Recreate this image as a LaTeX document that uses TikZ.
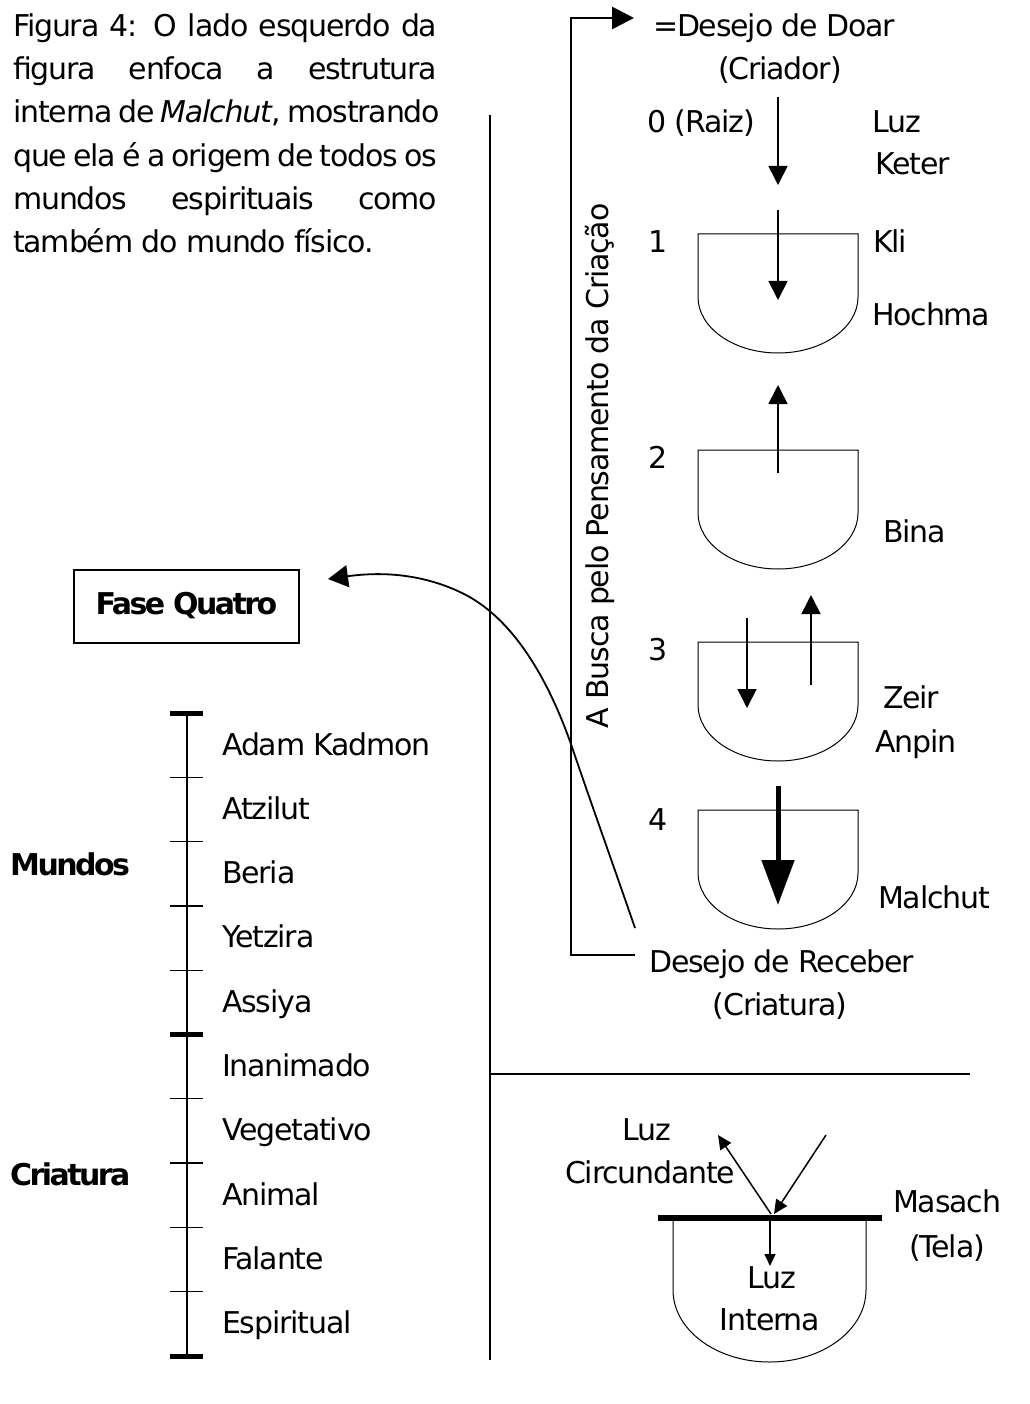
\documentclass[tikz,border=0pt]{standalone}
\usepackage{fontspec}
\setmainfont{DejaVu Sans}[LetterSpace=-4, BoldFeatures={LetterSpace=-8.5}]
\usetikzlibrary{arrows.meta}
\begin{document}
\begin{tikzpicture}[x=1pt,y=-1pt,
  lab/.style={inner sep=0pt, font=\fontsize{30}{36}\selectfont},
  blab/.style={inner sep=0pt, font=\fontsize{30}{36}\selectfont\bfseries},
  arr/.style={line width=1.6pt, -{Triangle[length=19pt,width=19pt]}},
  smallarr/.style={line width=1.5pt, -{Triangle[length=14pt,width=13pt]}},
  tinyarr/.style={line width=1.5pt, -{Triangle[length=12pt,width=11pt]}},
  bowlln/.style={line width=1pt},
  bowl/.pic={\draw[bowlln] (-80,0) -- (-80,63) arc[start angle=180,end angle=0,x radius=80,y radius=56] -- (80,0) -- cycle;},
]
\useasboundingbox (0,0) rectangle (1029,1404);

% ---------- caption paragraph ----------
\node[lab, anchor=base west] (p1) at (13,37)  {\makebox[424pt][s]{Figura 4: O lado esquerdo da}};
\node[lab, anchor=base west] (p2) at (13,80)  {\makebox[424pt][s]{figura enfoca a estrutura}};
\node[lab, anchor=base west] (p3) at (13,123) {\makebox[424pt][s]{interna de \textit{Malchut}, mostrando}};
\node[lab, anchor=base west] (p4) at (13,167) {\makebox[424pt][s]{que ela é a origem de todos os}};
\node[lab, anchor=base west] (p5) at (13,210) {\makebox[424pt][s]{mundos espirituais como}};
\node[lab, anchor=base west] (p6) at (13,253) {também do mundo físico.};

% ---------- dividing lines ----------
\coordinate (vtop) at (490,115);
\coordinate (vbot) at (490,1360);
\coordinate (hl) at (490,1074);
\coordinate (hr) at (970,1074);
\draw[line width=1.5pt] (vtop) -- (vbot);
\draw[line width=1.5pt] (hl) -- (hr);

% ---------- bracket ----------
\coordinate (bk1) at (635,955);
\coordinate (bk2) at (571,955);
\coordinate (bk3) at (571,18);
\coordinate (bk4) at (634,18);
\draw[line width=2.8pt, -{Triangle[length=22pt,width=22pt]}] (bk1) -- (bk2) -- (bk3) -- (bk4);
\node[lab, rotate=90, anchor=base] (busca) at (608,466) {A Busca pelo Pensamento da Criação};

% ---------- labels right ----------
\node[lab, anchor=base] (doar1) at (774,37) {=Desejo de Doar};
\node[lab, anchor=base] (doar2) at (780,80) {(Criador)};
\node[lab, anchor=base west] (raiz) at (647,133) {0 (Raiz)};
\node[lab, anchor=base west] (luz1) at (872,133) {Luz};
\node[lab, anchor=base west] (keter) at (875,175) {Keter};
\node[lab, anchor=base west] (n1) at (648,253) {1};
\node[lab, anchor=base west] (kli) at (873,253) {Kli};
\node[lab, anchor=base west] (hochma) at (872,325) {Hochma};
\node[lab, anchor=base west] (n2) at (648,468) {2};
\node[lab, anchor=base west] (bina) at (883,542) {Bina};
\node[lab, anchor=base west] (n3) at (648,660) {3};
\node[lab, anchor=base west] (zeir) at (883,708) {Zeir};
\node[lab, anchor=base west] (anpin) at (875,752) {Anpin};
\node[lab, anchor=base west] (n4) at (648,830) {4};
\node[lab, anchor=base west] (malchut) at (878,908) {Malchut};
\node[lab, anchor=base west] (receber1) at (649,972) {Desejo de Receber};
\node[lab, anchor=base] (receber2) at (780,1015) {(Criatura)};

% ---------- bowls ----------
\pic at (778,234) {bowl};
\pic at (778,450) {bowl};
\pic at (778,642) {bowl};
\pic at (778,810) {bowl};

% ---------- arrows in bowls ----------
\coordinate (a0s) at (778,97);  \coordinate (a0e) at (778,185);
\coordinate (a1s) at (778,210); \coordinate (a1e) at (778,300);
\coordinate (a2s) at (778,473); \coordinate (a2e) at (778,385);
\coordinate (a3s) at (747,618); \coordinate (a3e) at (747,708);
\coordinate (a4s) at (811,685); \coordinate (a4e) at (811,595);
\coordinate (a5s) at (778,786); \coordinate (a5e) at (778,905);
\draw[arr] (a0s) -- (a0e);
\draw[arr] (a1s) -- (a1e);
\draw[arr] (a2s) -- (a2e);
\draw[arr] (a3s) -- (a3e);
\draw[arr] (a4s) -- (a4e);
\draw[line width=5pt, -{Triangle[length=45pt,width=32pt]}] (a5s) -- (a5e);

% ---------- Masach bowl ----------
\draw[bowlln] (673,1218) -- (673,1290) arc[start angle=180,end angle=0,x radius=96.5,y radius=72] -- (866,1218);
\coordinate (ms1) at (658,1218);
\coordinate (ms2) at (882,1218);
\draw[line width=6pt] (ms1) -- (ms2);
\coordinate (rin) at (826,1135);
\coordinate (rhit) at (774,1214);
\coordinate (rhit2) at (771,1214);
\coordinate (rout) at (718,1135);
\coordinate (dins) at (770,1220);
\coordinate (dine) at (770,1266);
\draw[smallarr] (rin) -- (rhit);
\draw[smallarr] (rhit2) -- (rout);
\draw[tinyarr] (dins) -- (dine);
\node[lab, anchor=base] (luzc1) at (647,1140) {Luz};
\node[lab, anchor=base west] (luzc2) at (565,1183) {Circundante};
\node[lab, anchor=base west] (masach) at (893,1212) {Masach};
\node[lab, anchor=base] (tela) at (947,1257) {(Tela)};
\node[lab, anchor=base] (luzi1) at (772,1288) {Luz};
\node[lab, anchor=base] (luzi2) at (770,1330) {Interna};

% ---------- Fase Quatro ----------
\node[draw, line width=2pt, minimum width=225pt, minimum height=73pt, inner sep=0pt,
      font=\fontsize{30}{36}\selectfont\bfseries] (fase) at (186.5,606) {Fase Quatro};
\coordinate (cs) at (635,928);
\coordinate (ce) at (328,579);
\draw[line width=1.8pt, -{Triangle[length=20pt,width=22pt]}]
  (cs) .. controls (615,870) and (590,800) .. (573,750)
       .. controls (556,700) and (522,622) .. (462,593)
       .. controls (425,575) and (385,571) .. (ce);

% ---------- scale on the left ----------
\draw[line width=2pt] (187,713) -- (187,1356);
\foreach \i/\t in {0/Adam Kadmon,1/Atzilut,2/Beria,3/Yetzira,4/Assiya,5/Inanimado,6/Vegetativo,7/Animal,8/Falante,9/Espiritual}{
  \node[lab, anchor=base west] (w\i) at (222,{713+64.3*\i+42}) {\t};
}
\foreach \i in {1,2,3,4,6,7,8,9}{
  \draw[line width=1.3pt] (170,{713+64.3*\i}) -- (203,{713+64.3*\i});
}
\foreach \i in {0,5,10}{
  \draw[line width=5pt] (170,{713+64.3*\i}) -- (203,{713+64.3*\i});
}
\node[blab, anchor=base west] (mundos) at (10,875) {Mundos};
\node[blab, anchor=base west] (criatura) at (10,1185) {Criatura};
\end{tikzpicture}
\end{document}
